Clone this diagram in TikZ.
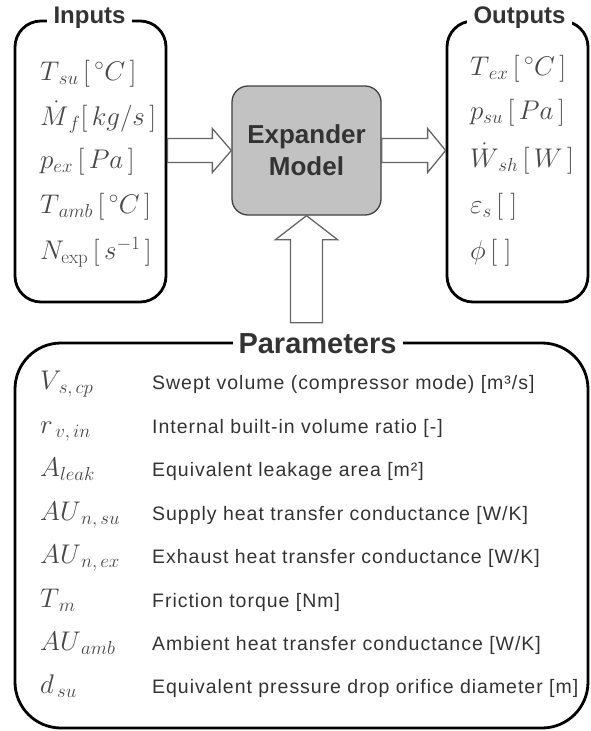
\RequirePackage{fix-cm}
\documentclass[tikz,border=0pt]{standalone}
\usepackage{fontspec}
\setsansfont{Liberation Sans}
\newfontfamily\descfont[LetterSpace=5]{Liberation Sans}
\usetikzlibrary{positioning,calc}

\begin{document}
\begin{tikzpicture}[
  x=1pt,y=1pt,
  frame/.style={draw=black,line width=2.8pt,rounded corners=26pt,inner sep=0pt},
  boxtitle/.style={fill=white,inner xsep=7pt,inner ysep=1pt,anchor=base,text=black!80,
    font=\sffamily\bfseries\fontsize{24}{28}\selectfont},
  modelbox/.style={draw=black!75,line width=1.3pt,fill=black!24,rounded corners=16pt,
    align=center,text=black!80,font=\sffamily\bfseries\fontsize{26}{32}\selectfont},
  var/.style={anchor=base west,inner sep=0pt,text=black!72,font=\fontsize{27}{31}\selectfont},
  desc/.style={anchor=base west,inner sep=0pt,text=black!80,font=\descfont\fontsize{19.5}{22}\selectfont},
  hollow/.style={draw=black!60,line width=1.3pt}
]
\useasboundingbox (0,0) rectangle (590,-731);

% cadres
\node[frame,minimum width=151pt,minimum height=281pt] (inputs) at (90.5,-161.5) {};
\node[frame,minimum width=141pt,minimum height=281pt] (outputs) at (517.5,-161.5) {};
\node[frame,rounded corners=46pt,minimum width=573pt,minimum height=385pt] (params) at (301.5,-535.5) {};
\node[modelbox,minimum width=149pt,minimum height=129pt] (expander) at (306.5,-150.5) {Expander\\Model};

% titres
\node[boxtitle] (intitle) at ($(inputs.north)+(-1,-4)$) {Inputs};
\node[boxtitle] (outtitle) at ($(outputs.north)+(2,-4)$) {Outputs};
\node[boxtitle,inner xsep=6pt,font=\sffamily\bfseries\fontsize{29}{32}\selectfont]
  (partitle) at ($(params.north)+(16,-12)$) {Parameters};

% fleches
\draw[hollow] (expander.west) -- ++(-19,22) -- ++(0,-10)
  -- ($(inputs.east |- expander.west)+(0,12)$) -- ++(0,-24)
  -- ($(expander.west)+(-19,-12)$) -- ++(0,-10) -- cycle;
\draw[hollow] (outputs.west |- expander.east) -- ++(-18,22) -- ++(0,-10)
  -- ($(expander.east)+(0,12)$) -- ++(0,-24)
  -- ($(outputs.west |- expander.east)+(-18,-12)$) -- ++(0,-10) -- cycle;
\draw[hollow] (expander.south) -- ++(31,-24) -- ++(-15,0) -- ++(0,-83)
  -- ++(-32,0) -- ++(0,83) -- ++(-15,0) -- cycle;

% entrees
\node[var] (tsu) at (40,-80) {$T_{\,su}\,[\,{}^\circ C\,]$};
\node[var] (mf) at (40,-125) {$\dot M_{\,f}[\,kg/s\,]$};
\node[var] (pex) at (40,-168) {$p_{ex}\,[\,Pa\,]$};
\node[var] (tamb) at (40,-213) {$T_{\,amb}\,[\,{}^\circ C\,]$};
\node[var] (nexp) at (40,-259) {$N_{\exp}\,[\,s^{-1}\,]$};

% sorties
\node[var] (tex) at (470,-75) {$T_{\,ex}\,[\,{}^\circ C\,]$};
\node[var] (psu) at (470,-119) {$p_{su}\,[\,Pa\,]$};
\node[var] (wsh) at (470,-167) {$\dot W_{\,sh}\,[\,W\,]$};
\node[var] (eps) at (470,-213) {$\varepsilon_s\,[\;]$};
\node[var] (phi) at (470,-259) {$\phi\,[\;]$};

% parametres
\node[var] (vs) at (40,-389) {$V_{\,s,\,cp}$};
\node[desc] (vsd) at (152,-389) {Swept volume (compressor mode) [m³/s]};
\node[var] (rv) at (40,-433) {$r_{\,v,\,in}$};
\node[desc] (rvd) at (152,-433) {Internal built-in volume ratio [-]};
\node[var] (al) at (40,-476) {$A_{leak}$};
\node[desc] (ald) at (152,-476) {Equivalent leakage area [m²]};
\node[var] (ausu) at (40,-520) {$AU_{\,n,\,su}$};
\node[desc] (ausud) at (152,-520) {Supply heat transfer conductance [W/K]};
\node[var] (auex) at (40,-563) {$AU_{\,n,\,ex}$};
\node[desc] (auexd) at (152,-563) {Exhaust heat transfer conductance [W/K]};
\node[var] (tm) at (40,-607) {$T_{\,m}$};
\node[desc] (tmd) at (152,-607) {Friction torque [Nm]};
\node[var] (auamb) at (40,-650) {$AU_{\,amb}$};
\node[desc] (auambd) at (152,-650) {Ambient heat transfer conductance [W/K]};
\node[var] (dsu) at (40,-693) {$d_{\,su}$};
\node[desc] (dsud) at (152,-693) {Equivalent pressure drop orifice diameter [m]};

\end{tikzpicture}
\end{document}
